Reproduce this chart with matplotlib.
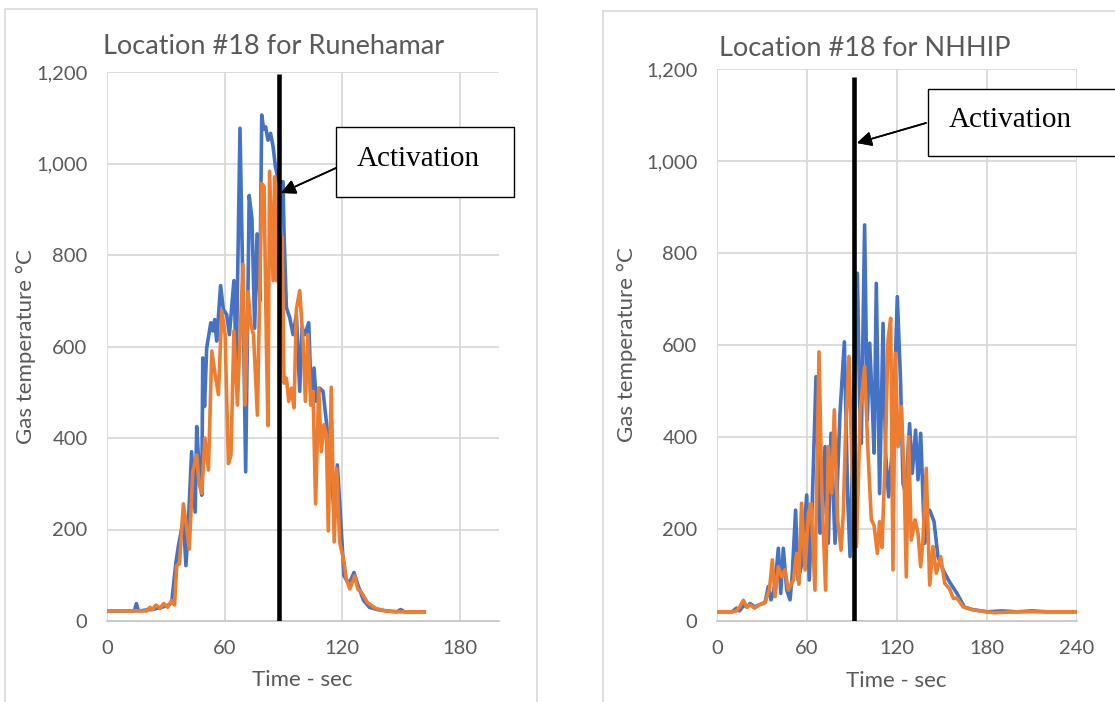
import matplotlib.pyplot as plt
from matplotlib.patches import Rectangle

# Runehamar, location #18
rune_t_blue = [0, 12, 14, 15, 16, 20, 24, 28, 31, 33, 35.2, 36.5, 39, 40.3, 41.5, 43.2, 45, 45.8, 47, 48.4,
               48.9, 49.8, 50.9, 53, 54, 55, 56, 58, 59.4, 61.1, 62.5, 64.8, 66, 67.9, 69.5, 70.8, 72.6, 74, 75.4, 76.6,
               78, 79, 80, 81, 82.2, 83.5, 84.8, 86, 87.5, 89, 89.9, 90.4, 91.6, 93.3, 95, 96.7, 98.4, 99.6, 101, 103,
               104.3, 105.7, 106.9, 108.6, 110.3, 112, 113.7, 115.9, 117.6, 118.8, 121, 123, 124.5, 126.1, 128, 131,
               134, 138, 143, 148, 150, 152, 156, 162]
rune_blue = [22, 22, 22, 38, 22, 24, 26, 30, 34, 40, 128, 165, 223, 121, 209, 370, 238, 425, 333, 275,
             575, 469, 597, 652, 634, 659, 612, 733, 681, 670, 626, 744, 560, 1077, 700, 326, 930, 880, 640, 846,
             700, 1106, 1075, 1080, 1051, 1066, 1037, 993, 963, 960, 960, 846, 685, 663, 626, 670, 502, 641, 626, 652,
             487, 553, 480, 509, 502, 436, 363, 238, 341, 260, 99, 84, 90, 106, 80, 45,
             30, 25, 22, 20, 25, 20, 20, 20]
rune_t_orange = [0, 20, 22, 23, 25, 27, 29, 31, 33, 34.5, 35.6, 37, 39, 40.3, 42, 43.8, 45.8, 47, 48.4, 50,
                 51.8, 53.5, 55.2, 56.9, 58.6, 60.3, 62, 63.3, 64.8, 66.6, 69.4, 70.5, 72, 73.4, 74.8, 76.8, 79, 80.2,
                 81.4, 82.2, 83, 84.8, 85.6, 86.5, 88.3, 89.4, 90.4, 91.6, 92.8, 94.1, 95.5, 96.7, 98.4, 100.1, 101.3,
                 102.6, 104, 105.2, 106.5, 108.1, 109.4, 110.8, 112, 113, 114.5, 116, 117.3, 118.8, 121, 122.2, 124,
                 126.5, 128, 130, 133, 137, 142, 150, 155, 162]
rune_orange = [22, 22, 30, 24, 35, 28, 38, 30, 45, 35, 121, 125, 256, 216, 157, 326, 363, 300, 279, 400,
               330, 590, 539, 495, 678, 626, 344, 363, 634, 472, 780, 472, 720, 649, 626, 450, 956, 950,
               600, 427, 983, 744, 971, 744, 800, 840, 520, 531, 480, 509, 466, 682, 722, 612, 480,
               626, 472, 502, 256, 509, 370, 429, 407, 197, 511, 173, 333, 172, 130, 92, 70,
               99, 70, 62, 40, 28, 22, 20, 20, 20]

# NHHIP, location #18
nhhip_t_blue = [0, 10, 13, 15, 18, 20, 22, 25, 28, 32, 34.2, 36, 37.5, 39, 40.9, 42.5, 44.2, 46.5, 48.7, 50.2,
                52.4, 54.1, 56.5, 59.8, 61.5, 63.5, 66, 68.7, 70.5, 72, 74.2, 76, 78.7, 82, 84.9, 87.1, 88.7, 91,
                93.6, 95.1, 96.2, 98.4, 100.2, 101.8, 103.6, 104.7, 106.2, 108.4, 110.7, 112.4, 114.4, 117.3, 120.2,
                122.4, 124, 125.8, 128.4, 130.2, 132.4, 134, 135.8, 138.4, 140, 141.8, 144.7, 147.3, 150.7, 155, 160,
                165, 170, 180, 190, 200, 210, 220, 240]
nhhip_blue = [20, 20, 28, 22, 35, 30, 38, 31, 35, 40, 75, 46, 60, 90, 158, 60, 158, 67, 46, 104,
              241, 89, 125, 274, 89, 256, 531, 191, 234, 379, 169, 408, 169, 451, 607, 270, 140, 450,
              756, 466, 386, 861, 437, 604, 466, 365, 734, 277, 647, 365, 270, 394, 705,
              517, 299, 277, 429, 321, 415, 307, 408, 169, 240, 241, 216, 140, 111, 85, 60,
              30, 25, 20, 22, 20, 22, 20, 20]
nhhip_t_orange = [0, 10, 13, 15, 17.6, 20, 22, 25, 28, 32, 35, 36.9, 38.7, 40.9, 43.1, 45.3, 47.5, 50.9, 53.1,
                  54.5, 56.4, 58.7, 60.9, 62.7, 65.3, 68, 69.8, 72.4, 74.2, 76.4, 78.2, 80.4, 82.7, 84.2, 85.7, 88,
                  89.5, 91.5, 93, 95.5, 98.4, 100.7, 102.9, 104.7, 106.9, 108.4, 110, 112.4, 114, 115.8, 117.3,
                  118.9, 120.7, 122.9, 124.7, 126.2, 127.8, 129.5, 132, 134, 135.8, 137.3, 139.5, 141.8, 144, 146.2,
                  149.1, 151.8, 155, 157.6, 160, 164, 171, 180, 185, 200, 240]
nhhip_orange = [20, 20, 22, 30, 45, 30, 35, 28, 35, 40, 70, 133, 53, 118, 96, 111, 67, 89, 147,
                80, 256, 111, 234, 256, 67, 585, 292, 67, 379, 278, 459, 220, 154, 234, 408, 575,
                400, 160, 162, 459, 553, 365, 220, 208, 147, 216, 160, 379, 611, 658, 111,
                582, 379, 466, 321, 96, 401, 176, 220, 191, 118, 176, 332, 78, 162, 104,
                140, 82, 70, 49, 50, 31, 24, 20, 18, 20, 20]

rune_activation = 87.8
nhhip_activation = 91.3
y_ticks = [0, 200, 400, 600, 800, 1000, 1200]
rune_x_ticks = [0, 60, 120, 180]
nhhip_x_ticks = [0, 60, 120, 180, 240]

W, H = 1115, 702
BLUE = '#4472C4'
ORANGE = '#ED7D31'
GREY_TXT = '#595959'
GRID = '#D9D9D9'
FONT = 'Lato'

fig = plt.figure(figsize=(W / 100, H / 100), dpi=100)


def rect(x0, y0, x1, y1):
    return [x0 / W, 1 - y1 / H, (x1 - x0) / W, (y1 - y0) / H]


def panel(pos, t_b, v_b, t_o, v_o, act, act_top, xmax, xticks, title, title_xy, ylab_x):
    ax = fig.add_axes(pos)
    ax.plot(t_b, v_b, color=BLUE, lw=2.6, solid_joinstyle='round', zorder=3)
    ax.plot(t_o, v_o, color=ORANGE, lw=2.6, solid_joinstyle='round', zorder=4)
    ax.plot([act, act], [0, act_top], color='black', lw=3.3, solid_capstyle='butt', zorder=5)
    ax.set_xlim(0, xmax)
    ax.set_ylim(0, 1200)
    ax.set_xticks(xticks)
    ax.set_yticks(y_ticks)
    ax.set_yticklabels([f'{v:,}' for v in y_ticks])
    ax.grid(True, color=GRID, lw=1.3)
    ax.set_axisbelow(True)
    for s in ['top', 'right', 'left']:
        ax.spines[s].set_visible(False)
    ax.spines['bottom'].set_color('#C8C8C8')
    ax.spines['bottom'].set_linewidth(1.3)
    ax.tick_params(length=0, labelsize=14.5, labelcolor=GREY_TXT)
    ax.tick_params(axis='y', pad=14)
    ax.tick_params(axis='x', pad=14)
    for lab in ax.get_xticklabels() + ax.get_yticklabels():
        lab.set_fontfamily(FONT)
    ax.set_xlabel('Time - sec', fontsize=16, color=GREY_TXT, fontfamily=FONT)
    ax.xaxis.set_label_coords(0.498, -0.09)
    ax.set_ylabel('Gas temperature °C', fontsize=16, color=GREY_TXT, fontfamily=FONT)
    ax.yaxis.set_label_coords(ylab_x, 0.5)
    fig.text(title_xy[0] / W, 1 - title_xy[1] / H, title, fontsize=19.5, color=GREY_TXT,
             fontfamily=FONT, ha='center', va='center')
    return ax


# panel frames
fig.add_artist(Rectangle((5 / W, -0.01), (537 - 5) / W, 1.01 - 9 / H, transform=fig.transFigure,
                         fill=False, ec=GRID, lw=1.2))
fig.add_artist(Rectangle((603 / W, -0.01), (1125 - 603) / W, 1.01 - 11 / H, transform=fig.transFigure,
                         fill=False, ec=GRID, lw=1.2))

ax1 = panel(rect(107, 72, 498.7, 621), rune_t_blue, rune_blue, rune_t_orange, rune_orange,
            rune_activation, 1195, 200, rune_x_ticks, 'Location #18 for Runehamar', (274, 47), -0.181)
ax2 = panel(rect(717, 69, 1077, 621), nhhip_t_blue, nhhip_blue, nhhip_t_orange, nhhip_orange,
            nhhip_activation, 1182, 240, nhhip_x_ticks, 'Location #18 for NHHIP', (865, 48), -0.222)

# "Activation" callouts
for (x0, y0, x1, y1), (tx, ty), (ax_, ay_), (hx, hy) in [
        ((336, 127, 514, 197), (418, 166), (336, 168), (281, 193)),
        ((928, 89, 1125, 156), (1010, 127), (926, 123), (857, 143))]:
    fig.add_artist(Rectangle((x0 / W, 1 - y1 / H), (x1 - x0) / W, (y1 - y0) / H,
                             transform=fig.transFigure, fill=True, fc='white', ec='black', lw=1.0, zorder=6))
    fig.text(tx / W, 1 - ty / H, 'Activation', fontsize=21, fontfamily='Liberation Serif',
             ha='center', va='baseline', color='black', zorder=7)
    fig.add_artist(plt.annotate('', xy=(hx / W, 1 - hy / H), xytext=(ax_ / W, 1 - ay_ / H),
                                xycoords='figure fraction', textcoords='figure fraction',
                                arrowprops=dict(arrowstyle='-|>', mutation_scale=22, lw=1.2,
                                                color='black', shrinkA=0, shrinkB=0)))

fig.savefig('out.png', dpi=100)
